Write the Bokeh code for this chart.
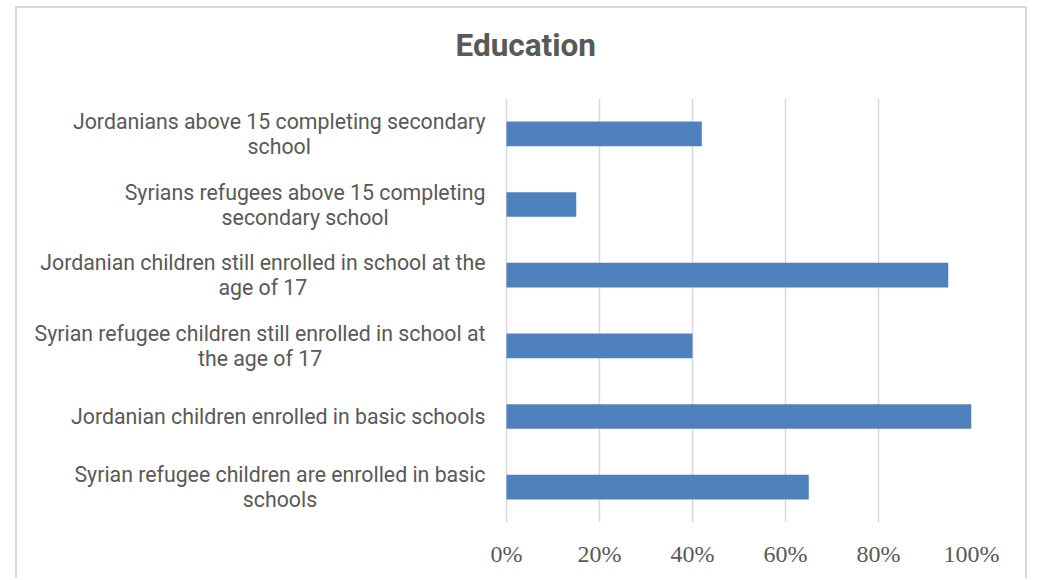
from bokeh.plotting import figure
from bokeh.models import FixedTicker, Range1d, FactorRange, ColumnDataSource, Title
from bokeh.core.properties import value
from bokeh.embed import file_html
from bokeh.resources import INLINE

# categories, top to bottom as shown
categories = [
    "Jordanians above 15 completing secondary\nschool",
    "Syrians refugees above 15 completing\nsecondary school",
    "Jordanian children still enrolled in school at the\nage of 17",
    "Syrian refugee children still enrolled in school at\nthe age of 17",
    "Jordanian children enrolled in basic schools",
    "Syrian refugee children are enrolled in basic\nschools",
]
values = [42, 15, 95, 40, 100, 65]
x_ticks = [0, 20, 40, 60, 80, 100]
x_tick_labels = ["0%", "20%", "40%", "60%", "80%", "100%"]

factors = list(reversed(categories))  # bottom to top
src = ColumnDataSource(dict(cat=categories, val=values, zero=[0] * len(values)))

p = figure(
    width=1012, height=572,
    y_range=FactorRange(factors=factors, range_padding=0),
    x_range=Range1d(-104.52, 100),
    output_backend="svg", toolbar_location=None,
    min_border_left=3, min_border_right=58, min_border_top=90, min_border_bottom=58,
)
p.styles = {
    "border-left": "2px solid #d9d9d9",
    "border-right": "2px solid #d9d9d9",
    "border-top": "2px solid #d9d9d9",
    "margin-left": "15px",
    "margin-top": "6px",
}

p.hbar(y="cat", right="val", left=0, height=0.35, source=src,
       fill_color="#4f81bd", line_color=None)

# category labels: block right-aligned next to the value axis, lines centred
p.text(x="zero", y="cat", text="cat", source=src, x_offset=-21,
       anchor="center_right", text_align="center", text_baseline="middle",
       text_font=value("Roboto"), text_font_size="21.3px",
       text_color="#595959", text_line_height=1.0)

# title: a thin spacer next to the plot area, then the title above it
p.title = None
p.add_layout(Title(text=" ", text_font_size="1px", standoff=25), "above")
p.add_layout(Title(text="Education", align="left", offset=435, text_font="Roboto",
                   text_font_size="31.5px", text_font_style="bold", text_color="#595959",
                   vertical_align="top", standoff=10), "above")

p.outline_line_color = None
p.background_fill_color = "white"
p.border_fill_color = "white"

p.xgrid.grid_line_color = "#d9d9d9"
p.xgrid.grid_line_width = 1.5
p.ygrid.grid_line_color = None

p.xaxis.ticker = FixedTicker(ticks=x_ticks)
p.xaxis.major_label_overrides = dict(zip(x_ticks, x_tick_labels))
p.xaxis.axis_line_color = None
p.xaxis.major_tick_line_color = None
p.xaxis.minor_tick_line_color = None
p.xaxis.major_label_text_font = "Liberation Serif"
p.xaxis.major_label_text_font_size = "24px"
p.xaxis.major_label_text_color = "#595959"
p.xaxis.major_label_standoff = 12

p.yaxis.visible = False

open("out.html", "w").write(file_html(p, INLINE))
